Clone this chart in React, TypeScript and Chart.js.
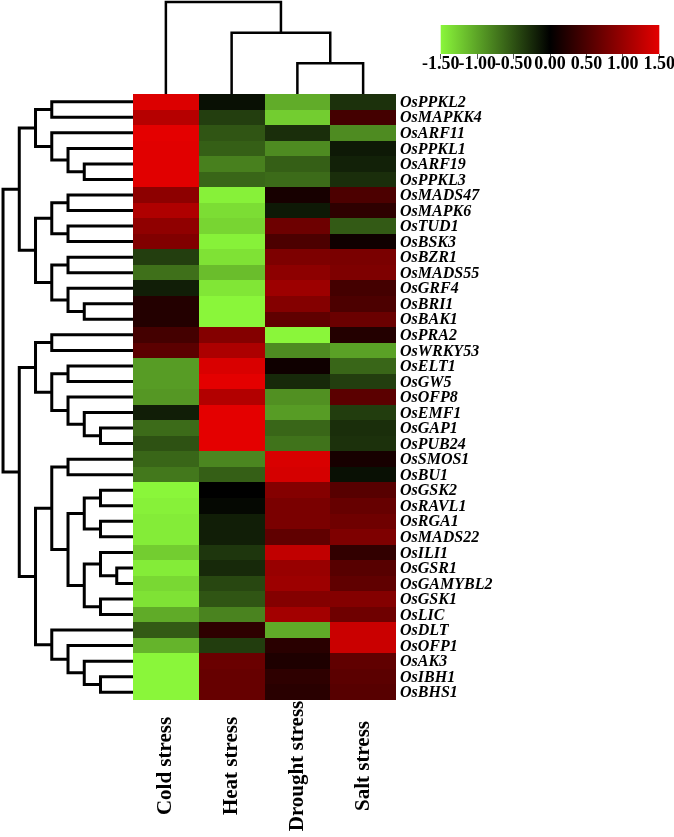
import React, { useEffect, useRef } from "react";
import { Chart, registerables } from "chart.js";
Chart.register(...registerables);

const CONDITIONS = ["Cold stress", "Heat stress", "Drought stress", "Salt stress"];
const GENES = [
  "OsPPKL2", "OsMAPKK4", "OsARF11", "OsPPKL1", "OsARF19", "OsPPKL3", "OsMADS47", "OsMAPK6",
  "OsTUD1", "OsBSK3", "OsBZR1", "OsMADS55", "OsGRF4", "OsBRI1", "OsBAK1", "OsPRA2",
  "OsWRKY53", "OsELT1", "OsGW5", "OsOFP8", "OsEMF1", "OsGAP1", "OsPUB24", "OsSMOS1",
  "OsBU1", "OsGSK2", "OsRAVL1", "OsRGA1", "OsMADS22", "OsILI1", "OsGSR1", "OsGAMYBL2",
  "OsGSK1", "OsLIC", "OsDLT", "OsOFP1", "OsAK3", "OsIBH1", "OsBHS1",
];
const COLD = [
  1.45, 1.2, 1.5, 1.48, 1.48, 1.48, 0.93, 1.15, 0.95, 0.85, -0.38, -0.68, -0.18, 0.23, 0.23, 0.45,
  0.6, -0.95, -0.95, -0.92, -0.18, -0.65, -0.5, -0.62, -0.73, -1.5, -1.47, -1.44, -1.44, -1.25,
  -1.44, -1.32, -1.38, -1.04, -0.55, -1.1, -1.5, -1.5, -1.5,
];
const HEAT = [
  -0.1, -0.38, -0.52, -0.58, -0.78, -0.62, -1.47, -1.35, -1.3, -1.47, -1.38, -1.15, -1.4, -1.5, -1.5, 0.87,
  1.13, 1.43, 1.5, 1.17, 1.5, 1.5, 1.5, -0.82, -0.58, 0.0, -0.05, -0.18, -0.18, -0.33,
  -0.25, -0.43, -0.52, -0.8, 0.3, -0.37, 0.7, 0.67, 0.67,
];
const DROUGHT = [
  -1.05, -1.25, -0.28, -0.85, -0.58, -0.65, 0.15, -0.15, 0.72, 0.5, 0.82, 0.93, 1.03, 0.87, 0.63, -1.5,
  -0.85, 0.1, -0.25, -0.88, -0.95, -0.62, -0.7, 1.43, 1.4, 0.87, 0.8, 0.8, 0.63, 1.27,
  1.0, 1.03, 0.87, 1.07, -1.04, 0.27, 0.2, 0.3, 0.27,
];
const SALT = [
  -0.3, 0.45, -0.85, -0.15, -0.2, -0.28, 0.5, 0.3, -0.55, 0.1, 0.8, 0.83, 0.45, 0.5, 0.7, 0.23,
  -0.98, -0.62, -0.38, 0.6, -0.37, -0.28, -0.3, 0.15, -0.1, 0.57, 0.67, 0.73, 0.83, 0.33,
  0.57, 0.63, 0.87, 0.73, 1.33, 1.33, 0.63, 0.6, 0.57,
];
const COLOR_TICKS = [-1.5, -1.0, -0.5, 0.0, 0.5, 1.0, 1.5];

// [childA, childB, mergeHeight]; ids >= number of leaves refer to earlier merges
const ROW_MERGES: [number, number, number][] = [
  [0, 1, 5], [4, 5, 3], [3, 40, 4], [2, 41, 5], [39, 42, 6],
  [6, 7, 4], [8, 9, 4], [44, 45, 5], [10, 11, 4], [13, 14, 3],
  [12, 48, 4], [47, 49, 5], [46, 50, 6], [43, 51, 7], [15, 16, 5],
  [17, 18, 4], [21, 22, 2], [20, 55, 3], [19, 56, 4], [54, 57, 5],
  [53, 58, 6], [23, 24, 4], [25, 26, 2], [27, 28, 2], [61, 62, 3],
  [30, 31, 1], [29, 64, 2], [32, 33, 2], [65, 66, 3], [63, 67, 4],
  [60, 68, 5], [37, 38, 2], [36, 70, 3], [35, 71, 4], [34, 72, 5],
  [69, 73, 6], [59, 74, 7], [52, 75, 8],
];
const COL_MERGES: [number, number, number][] = [
  [2, 3, 1], [1, 4, 2], [0, 5, 3],
];

const VALUES = [COLD, HEAT, DROUGHT, SALT];

const X_MIN = -532 / 263;
const Y_MIN = -3666 / 606;
const ROW_UNIT = 0.2471; // columns per row-dendrogram height unit
const COL_UNIT = 1.974; // rows per column-dendrogram height unit

const LOW = [138, 246, 58];
const HIGH = [228, 0, 0];

function heatColor(v: number): string {
  const t = Math.max(-1, Math.min(1, v / 1.5));
  if (t < 0) {
    const k = -t;
    return `rgb(${Math.round(LOW[0] * k)},${Math.round(LOW[1] * k)},${Math.round(LOW[2] * k)})`;
  }
  return `rgb(${Math.round(HIGH[0] * t)},${Math.round(HIGH[1] * t)},${Math.round(HIGH[2] * t)})`;
}

function dendroDatasets(
  n: number,
  merges: [number, number, number][],
  toPoint: (pos: number, h: number) => { x: number; y: number },
  width: number
) {
  const pos: number[] = [];
  const hts: number[] = [];
  for (let i = 0; i < n; i++) {
    pos.push(i + 0.5);
    hts.push(0);
  }
  const sets: any[] = [];
  merges.forEach(([a, b, h]) => {
    const pa = pos[a], pb = pos[b];
    sets.push({
      data: [toPoint(pa, hts[a]), toPoint(pa, h), toPoint(pb, h), toPoint(pb, hts[b])],
      showLine: true,
      borderColor: "#000",
      borderWidth: width,
      pointRadius: 0,
      tension: 0,
      fill: false,
      borderJoinStyle: "miter",
      borderCapStyle: "butt",
    });
    pos.push((pa + pb) / 2);
    hts.push(h);
  });
  return sets;
}

const heatPlugin = {
  id: "heatPlugin",
  beforeDatasetsDraw(chart: any) {
    const { ctx } = chart;
    const xs = chart.scales.x;
    const ys = chart.scales.y;
    ctx.save();
    for (let c = 0; c < CONDITIONS.length; c++) {
      const x0 = Math.round(xs.getPixelForValue(c));
      const x1 = Math.round(xs.getPixelForValue(c + 1));
      for (let r = 0; r < GENES.length; r++) {
        const y0 = Math.round(ys.getPixelForValue(r));
        const y1 = Math.round(ys.getPixelForValue(r + 1));
        ctx.fillStyle = heatColor(VALUES[c][r]);
        ctx.fillRect(x0, y0, x1 - x0, y1 - y0);
      }
    }
    ctx.restore();
  },
  afterDraw(chart: any) {
    const { ctx, chartArea } = chart;
    const xs = chart.scales.x;
    const ys = chart.scales.y;
    ctx.save();
    ctx.fillStyle = "#000";
    ctx.font = 'italic bold 16px "Liberation Serif", "Times New Roman", serif';
    ctx.textAlign = "left";
    ctx.textBaseline = "middle";
    const lx = xs.getPixelForValue(CONDITIONS.length) + 4;
    GENES.forEach((g, i) => {
      ctx.fillText(g, lx, ys.getPixelForValue(i + 0.5) + 1);
    });
    ctx.font = 'bold 21px "Liberation Serif", "Times New Roman", serif';
    ctx.textAlign = "center";
    CONDITIONS.forEach((c, i) => {
      ctx.save();
      ctx.translate(xs.getPixelForValue(i + 0.5), chartArea.bottom + 66);
      ctx.rotate(-Math.PI / 2);
      ctx.fillText(c, 0, 0);
      ctx.restore();
    });
    ctx.restore();
  },
};

const gradientPlugin = {
  id: "gradientPlugin",
  beforeDraw(chart: any) {
    const { ctx, chartArea } = chart;
    const xs = chart.scales.x;
    const x0 = xs.getPixelForValue(COLOR_TICKS[0]);
    const x1 = xs.getPixelForValue(COLOR_TICKS[COLOR_TICKS.length - 1]);
    const g = ctx.createLinearGradient(x0, 0, x1, 0);
    g.addColorStop(0, heatColor(-1.5));
    g.addColorStop(0.5, heatColor(0));
    g.addColorStop(1, heatColor(1.5));
    ctx.save();
    ctx.fillStyle = g;
    ctx.fillRect(x0, chartArea.top, x1 - x0, chartArea.bottom - chartArea.top);
    ctx.restore();
  },
};

export default function App() {
  const mainRef = useRef<HTMLCanvasElement>(null);
  const barRef = useRef<HTMLCanvasElement>(null);

  useEffect(() => {
    const rowSets = dendroDatasets(GENES.length, ROW_MERGES, (p, h) => ({ x: -h * ROW_UNIT, y: p }), 3);
    const colSets = dendroDatasets(CONDITIONS.length, COL_MERGES, (p, h) => ({ x: p, y: -h * COL_UNIT }), 2.5);
    const main = new Chart(mainRef.current!, {
      type: "scatter",
      data: { datasets: [...rowSets, ...colSets] },
      options: {
        animation: false,
        responsive: false,
        devicePixelRatio: 1,
        layout: { padding: { left: 0, top: 0, right: 278, bottom: 137 } },
        plugins: { legend: { display: false }, tooltip: { enabled: false } },
        scales: {
          x: { type: "linear", min: X_MIN, max: CONDITIONS.length, display: false },
          y: { type: "linear", min: Y_MIN, max: GENES.length, reverse: true, display: false },
        },
      },
      plugins: [heatPlugin],
    } as any);

    const bar = new Chart(barRef.current!, {
      type: "scatter",
      data: { datasets: [] },
      options: {
        animation: false,
        responsive: false,
        devicePixelRatio: 1,
        layout: { padding: { left: 40.7, right: 40.7, top: 5, bottom: 0 } },
        plugins: { legend: { display: false }, tooltip: { enabled: false } },
        scales: {
          x: {
            type: "linear",
            min: -1.5,
            max: 1.5,
            afterBuildTicks: (s: any) => {
              s.ticks = COLOR_TICKS.map((v) => ({ value: v }));
            },
            afterFit: (s: any) => {
              s.height = 30;
            },
            ticks: {
              autoSkip: false,
              maxRotation: 0,
              minRotation: 0,
              padding: -5,
              color: "#000",
              font: { family: '"Liberation Serif", "Times New Roman", serif', size: 18, weight: "bold" },
              callback: (v: any) => Number(v).toFixed(2),
            },
            grid: { display: true, drawOnChartArea: false, drawTicks: true, tickLength: 5, color: "#555", lineWidth: 1 },
            border: { display: false },
          },
          y: { type: "linear", min: 0, max: 1, display: false },
        },
      },
      plugins: [gradientPlugin],
    } as any);

    return () => {
      main.destroy();
      bar.destroy();
    };
  }, []);

  return (
    <div style={{ position: "absolute", left: 0, top: 0, width: 674, height: 837, overflow: "hidden", background: "#fff" }}>
      <canvas ref={mainRef} width={674} height={837} style={{ position: "absolute", left: 0, top: 0 }} />
      <canvas ref={barRef} width={300} height={64} style={{ position: "absolute", left: 400, top: 20 }} />
    </div>
  );
}
